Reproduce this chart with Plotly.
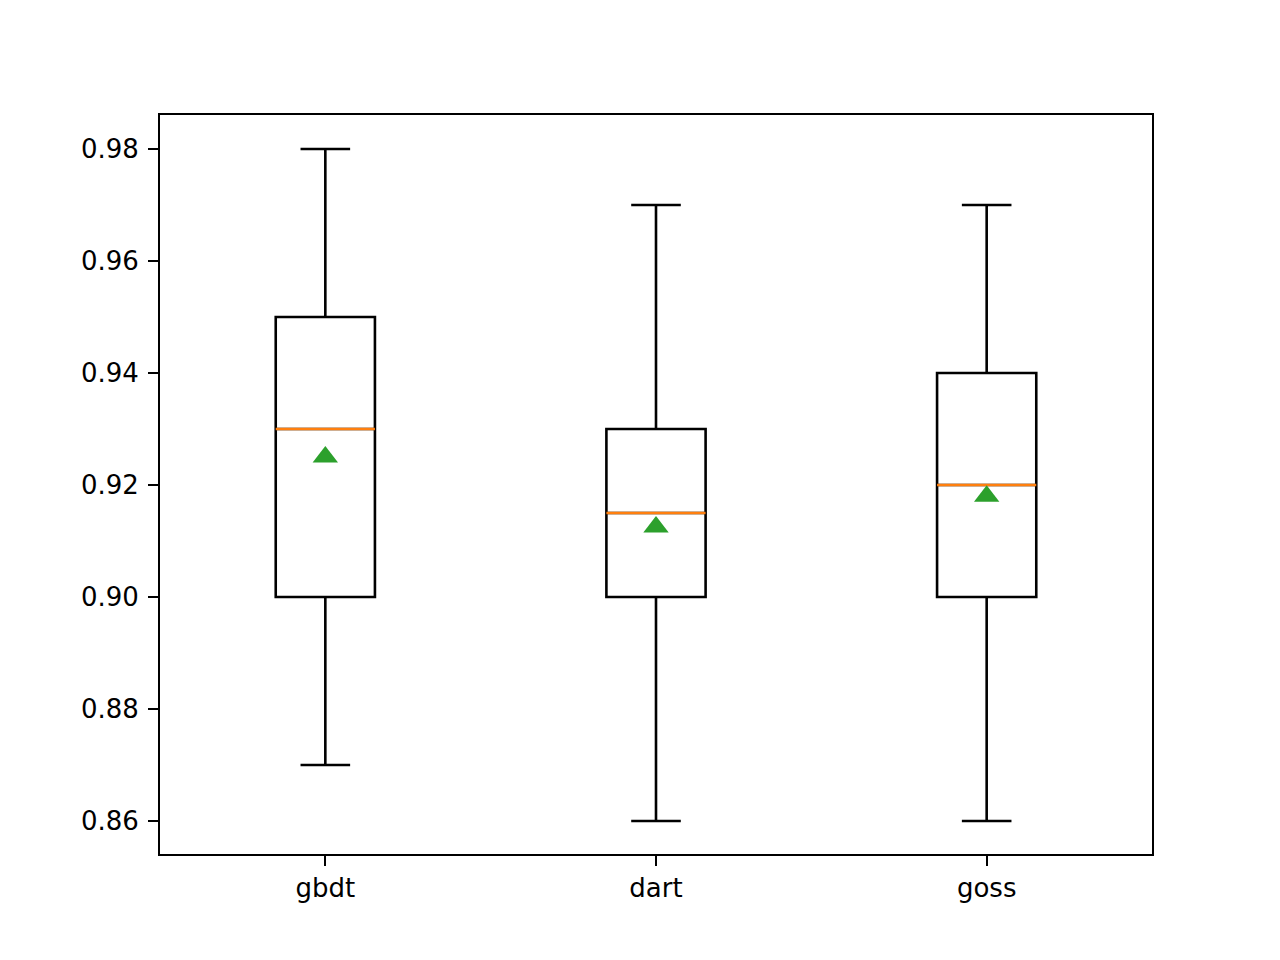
import plotly.graph_objects as go

labels = ["gbdt", "dart", "goss"]
positions = [1, 2, 3]
lower = [0.87, 0.86, 0.86]
q1 = [0.90, 0.90, 0.90]
medians = [0.93, 0.915, 0.92]
q3 = [0.95, 0.93, 0.94]
upper = [0.98, 0.97, 0.97]
means = [0.925, 0.9125, 0.918]

box_w = 0.3

fig = go.Figure()

fig.add_trace(go.Box(
    x=positions,
    q1=q1,
    median=medians,
    q3=q3,
    lowerfence=lower,
    upperfence=upper,
    width=box_w,
    whiskerwidth=0.5,
    fillcolor="rgba(0,0,0,0)",
    line=dict(color="black", width=2.6),
    boxpoints=False,
    showlegend=False,
))

# orange median lines on top of the boxes
med_x, med_y = [], []
for p, m in zip(positions, medians):
    med_x += [p - box_w / 2, p + box_w / 2, None]
    med_y += [m, m, None]

fig.add_trace(go.Scatter(
    x=med_x, y=med_y, mode="lines",
    line=dict(color="#ff7f0e", width=2.6),
    showlegend=False, hoverinfo="skip",
))

fig.add_trace(go.Scatter(
    x=positions, y=means, mode="markers",
    marker=dict(symbol="triangle-up", color="#2ca02c", size=22),
    showlegend=False,
))

axis_style = dict(
    showline=True, mirror=True, linecolor="black", linewidth=2,
    showgrid=False, zeroline=False,
    ticks="outside", ticklen=10, tickwidth=2, tickcolor="black",
    tickfont=dict(family="DejaVu Sans", size=26, color="black"),
)

fig.update_xaxes(
    range=[0.5, 3.5], tickvals=positions, ticktext=labels, **axis_style
)
fig.update_yaxes(
    range=[0.85411, 0.98607], tickvals=[0.86, 0.88, 0.90, 0.92, 0.94, 0.96, 0.98],
    tickformat=".2f", ticklabelstandoff=4, **axis_style
)

fig.update_layout(
    width=1280, height=960,
    margin=dict(l=152, r=136, t=107, b=114),
    plot_bgcolor="white", paper_bgcolor="white",
)

fig.write_html("out.html")
